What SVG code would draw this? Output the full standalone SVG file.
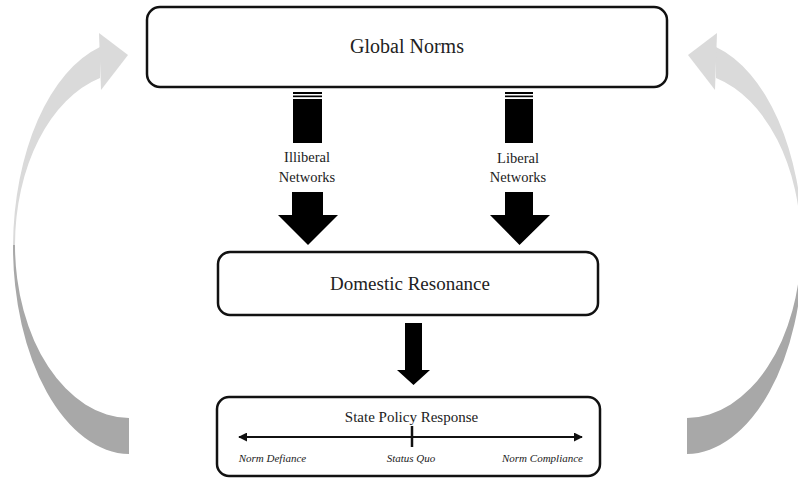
<svg xmlns="http://www.w3.org/2000/svg" width="798" height="478" viewBox="0 0 798 478">
<defs>
<style>
.box{fill:#fff;stroke:#111;stroke-width:2.5}
.t{font-family:"Liberation Serif","Times New Roman",serif;fill:#222;text-anchor:middle}
.it{font-family:"Liberation Serif","Times New Roman",serif;font-style:italic;fill:#222;text-anchor:middle;font-size:11px}
.blk{fill:#000}
.lt{fill:#dadada}
.dk{fill:#a8a8a8}
</style>
<marker id="ah" viewBox="0 0 10 10" refX="9" refY="5" markerWidth="4.5" markerHeight="4.5" orient="auto-start-reverse" markerUnits="strokeWidth">
<path d="M0,0 L10,5 L0,10 Z" fill="#111"/>
</marker>
<g id="loop">
<path class="lt" d="M100,47 A117,208 0 0 0 13,245 L15,245 A115,173 0 0 1 100,78 Z"/>
<path class="lt" d="M99,33 L128,55 L101,90 Z"/>
<path class="dk" d="M13,245 A117,208 0 0 0 129,454 L129,418 A115,173 0 0 1 15,245 Z"/>
</g>
</defs>

<g id="connectors">
<use href="#loop"/>
<use href="#loop" transform="translate(816,0) scale(-1,1)"/>
<g id="illiberal-arrow">
<rect class="blk" x="293" y="92" width="29" height="2"/>
<rect class="blk" x="293" y="95.5" width="29" height="1.7"/>
<rect class="blk" x="293" y="99" width="29" height="44"/>
<path class="blk" d="M292,192 H323 V215 H338 L308,245 L278,215 H292 Z"/>
</g>
<g id="liberal-arrow">
<rect class="blk" x="505" y="92" width="28" height="2"/>
<rect class="blk" x="505" y="95.5" width="28" height="1.7"/>
<rect class="blk" x="505" y="99" width="28" height="44"/>
<path class="blk" d="M505,192 H533 V215 H550 L519.5,245 L490,215 H505 Z"/>
</g>
<path id="mid-arrow" class="blk" d="M405,323 H422 V370 H430 L413.5,385 L397,370 H405 Z"/>
</g>

<text class="t" x="307" y="162" font-size="14.5">Illiberal</text>
<text class="t" x="307" y="182" font-size="14.5">Networks</text>
<text class="t" x="518" y="163" font-size="14.5">Liberal</text>
<text class="t" x="518" y="182" font-size="14.5">Networks</text>

<g id="global-norms">
<rect class="box" x="147" y="7" width="520" height="80" rx="13"/>
<text class="t" x="407" y="53" font-size="20">Global Norms</text>
</g>

<g id="domestic-resonance">
<rect class="box" x="218" y="252" width="380" height="63" rx="12"/>
<text class="t" x="410" y="290" font-size="19">Domestic Resonance</text>
</g>

<g id="state-policy-response">
<rect class="box" x="217" y="397" width="383" height="79" rx="12"/>
<text class="t" x="411.5" y="422" font-size="15">State Policy Response</text>
<line x1="239" y1="437" x2="582" y2="437" stroke="#111" stroke-width="2" marker-start="url(#ah)" marker-end="url(#ah)"/>
<line x1="412" y1="426" x2="412" y2="447" stroke="#111" stroke-width="2.5"/>
<text class="it" x="272.5" y="462">Norm Defiance</text>
<text class="it" x="411" y="462">Status Quo</text>
<text class="it" x="542.5" y="462">Norm Compliance</text>
</g>
</svg>
